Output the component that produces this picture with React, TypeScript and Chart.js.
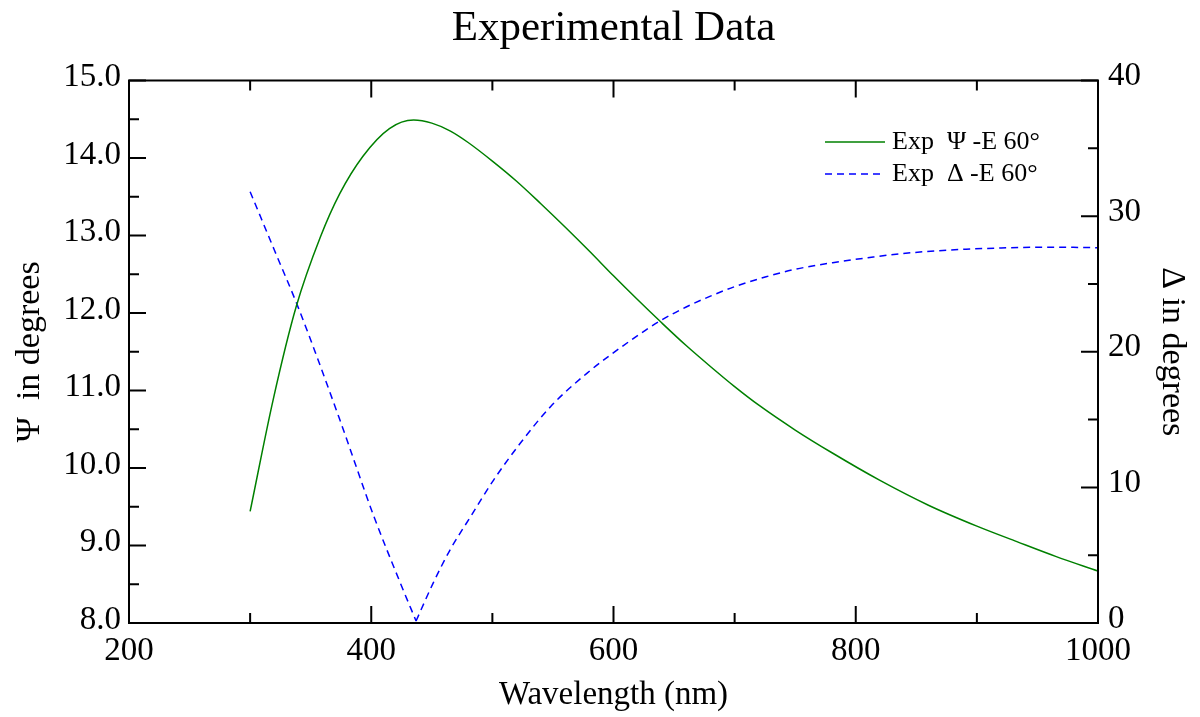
import React, { useEffect, useRef } from "react";
import { Chart, registerables } from "chart.js";

Chart.register(...registerables);

const FONT = "'Liberation Serif', 'Times New Roman', serif";

const chartTitle = "Experimental Data";
const xTitle = "Wavelength (nm)";
const psiTitle = "Ψ  in degrees";
const deltaTitle = "Δ in degrees";
const psiLabel = "Exp  Ψ -E 60°";
const deltaLabel = "Exp  Δ -E 60°";

// Ψ series (left axis)
const psiWavelengths = [300, 319, 338, 358, 374, 393, 415, 435, 450, 465, 480, 500, 520, 540, 560, 580, 600, 620, 640, 660, 680, 700, 720, 750, 780, 820, 860, 900, 933, 965, 1000];
const psiValues = [9.44, 10.88, 12.08, 12.98, 13.54, 14.02, 14.38, 14.49, 14.45, 14.35, 14.2, 13.96, 13.7, 13.41, 13.11, 12.8, 12.48, 12.17, 11.87, 11.58, 11.31, 11.05, 10.81, 10.49, 10.2, 9.84, 9.52, 9.25, 9.05, 8.86, 8.67];

// Δ series (right axis)
const deltaWavelengths = [300, 320, 340, 374, 402, 424, 437, 451, 465, 482, 501, 523, 548, 578, 616, 638, 660, 680, 700, 726, 750, 781, 810, 836, 865, 891, 920, 947, 975, 1000];
const deltaValues = [31.8, 27.5, 23.2, 15.0, 7.9, 2.95, 0.15, 2.92, 5.38, 7.84, 10.54, 13.25, 15.95, 18.41, 20.95, 22.25, 23.3, 24.1, 24.8, 25.53, 26.08, 26.57, 26.93, 27.22, 27.43, 27.56, 27.65, 27.7, 27.7, 27.67];
const deltaMinIndex = 6; // sharp minimum of the V

// Tick values
const xMajorTicks = [200, 400, 600, 800, 1000];
const xMinorTicks = [300, 500, 700, 900];
const psiMajorTicks = [8, 9, 10, 11, 12, 13, 14, 15];
const psiMinorTicks = [8.5, 9.5, 10.5, 11.5, 12.5, 13.5, 14.5];
const deltaMajorTicks = [0, 10, 20, 30, 40];
const deltaMinorTicks = [5, 15, 25, 35];

const GREEN = "#008000";
const BLUE = "#0000ff";

// Split the Δ line at its minimum so each branch is interpolated separately (sharp V)
function buildDeltaData() {
  const pts: any[] = [];
  deltaWavelengths.forEach((x, i) => {
    pts.push({ x, y: deltaValues[i] });
    if (i === deltaMinIndex) {
      pts.push({ x, y: null });
      pts.push({ x, y: deltaValues[i] });
    }
  });
  return pts;
}

const frameTicksPlugin = {
  id: "frameTicks",
  afterDatasetsDraw(chart: any) {
    const { ctx, chartArea, scales } = chart;
    const { left, right, top, bottom } = chartArea;
    const MAJ = 17;
    const MIN = 10;
    ctx.save();
    ctx.strokeStyle = "#000";
    ctx.lineWidth = 2;
    ctx.beginPath();
    const xt = (vals: number[], len: number) => {
      vals.forEach((v) => {
        const p = scales.x.getPixelForValue(v);
        ctx.moveTo(p, bottom);
        ctx.lineTo(p, bottom - len);
        ctx.moveTo(p, top);
        ctx.lineTo(p, top + len);
      });
    };
    xt(xMajorTicks, MAJ);
    xt(xMinorTicks, MIN);
    const yl = (vals: number[], len: number) => {
      vals.forEach((v) => {
        const p = scales.y.getPixelForValue(v);
        ctx.moveTo(left, p);
        ctx.lineTo(left + len, p);
      });
    };
    yl(psiMajorTicks, MAJ);
    yl(psiMinorTicks, MIN);
    const yr = (vals: number[], len: number) => {
      vals.forEach((v) => {
        const p = scales.y1.getPixelForValue(v);
        ctx.moveTo(right, p);
        ctx.lineTo(right - len, p);
      });
    };
    yr(deltaMajorTicks, MAJ);
    yr(deltaMinorTicks, MIN);
    ctx.stroke();
    ctx.strokeRect(left, top, right - left, bottom - top);
    ctx.restore();
  },
};

const legendPlugin = {
  id: "customLegend",
  afterDraw(chart: any) {
    const { ctx, chartArea } = chart;
    const x0 = chartArea.right - 273;
    const x1 = chartArea.right - 213;
    const tx = chartArea.right - 206;
    let y = chartArea.top + 61.5;
    ctx.save();
    chart.data.datasets.forEach((ds: any) => {
      ctx.strokeStyle = ds.borderColor;
      ctx.lineWidth = ds.borderWidth;
      ctx.setLineDash(ds.borderDash || []);
      ctx.beginPath();
      ctx.moveTo(x0, y);
      ctx.lineTo(x1, y);
      ctx.stroke();
      ctx.setLineDash([]);
      ctx.fillStyle = "#000";
      ctx.font = `26px ${FONT}`;
      ctx.textAlign = "left";
      ctx.textBaseline = "middle";
      ctx.fillText(ds.label, tx, y);
      y += 32;
    });
    ctx.restore();
  },
};

export default function App() {
  const ref = useRef<HTMLCanvasElement | null>(null);

  useEffect(() => {
    if (!ref.current) return;
    Chart.defaults.font.family = FONT;
    Chart.defaults.color = "#000";
    const chart = new Chart(ref.current, {
      type: "line",
      data: {
        datasets: [
          {
            label: psiLabel,
            data: psiWavelengths.map((x, i) => ({ x, y: psiValues[i] })),
            borderColor: GREEN,
            borderWidth: 1.5,
            pointRadius: 0,
            cubicInterpolationMode: "monotone",
            fill: false,
            yAxisID: "y",
          },
          {
            label: deltaLabel,
            data: buildDeltaData(),
            borderColor: BLUE,
            borderWidth: 1.5,
            borderDash: [7, 5],
            pointRadius: 0,
            cubicInterpolationMode: "monotone",
            spanGaps: false,
            fill: false,
            yAxisID: "y1",
          },
        ],
      },
      options: {
        responsive: false,
        animation: false,
        devicePixelRatio: 1,
        layout: { padding: 0 },
        plugins: {
          legend: { display: false },
          tooltip: { enabled: false },
          title: {
            display: true,
            text: chartTitle,
            fullSize: false,
            color: "#000",
            font: { family: FONT, size: 43, weight: "normal" },
            padding: { top: 3, bottom: 25.9 },
          },
        },
        scales: {
          x: {
            type: "linear",
            position: "bottom",
            min: 200,
            max: 1000,
            afterBuildTicks: (s: any) => {
              s.ticks = xMajorTicks.map((v) => ({ value: v }));
            },
            ticks: {
              font: { family: FONT, size: 33 },
              color: "#000",
              padding: 9,
              maxRotation: 0,
              autoSkip: false,
              callback: (v: any) => String(v),
            },
            grid: { display: false, drawTicks: false },
            border: { display: false },
            title: {
              display: true,
              text: xTitle,
              color: "#000",
              font: { family: FONT, size: 33 },
              padding: { top: 0, bottom: 2 },
            },
            afterFit: (s: any) => {
              s.height = 94;
            },
          },
          y: {
            type: "linear",
            position: "left",
            min: 8,
            max: 15,
            afterBuildTicks: (s: any) => {
              s.ticks = psiMajorTicks.map((v) => ({ value: v }));
            },
            ticks: {
              font: { family: FONT, size: 33 },
              color: "#000",
              padding: 8,
              labelOffset: -3,
              callback: (v: any) => Number(v).toFixed(1),
            },
            grid: { display: false, drawTicks: false },
            border: { display: false },
            title: {
              display: true,
              text: psiTitle,
              color: "#000",
              font: { family: FONT, size: 34 },
              padding: { top: 10, bottom: 0 },
            },
            afterFit: (s: any) => {
              s.width = 129;
            },
          },
          y1: {
            type: "linear",
            position: "right",
            min: 0,
            max: 40,
            afterBuildTicks: (s: any) => {
              s.ticks = deltaMajorTicks.map((v) => ({ value: v }));
            },
            ticks: {
              font: { family: FONT, size: 33 },
              color: "#000",
              padding: 10,
              labelOffset: -4,
            },
            grid: { display: false, drawTicks: false },
            border: { display: false },
            title: {
              display: true,
              text: deltaTitle,
              color: "#000",
              font: { family: FONT, size: 34 },
              padding: { top: 8, bottom: 0 },
            },
            afterFit: (s: any) => {
              s.width = 102;
            },
          },
        },
      },
      plugins: [frameTicksPlugin, legendPlugin],
    } as any);
    return () => chart.destroy();
  }, []);

  return (
    <div style={{ position: "absolute", left: 0, top: 0, width: 1200, height: 717, background: "#fff" }}>
      <canvas ref={ref} width={1200} height={717} style={{ display: "block" }} />
    </div>
  );
}
